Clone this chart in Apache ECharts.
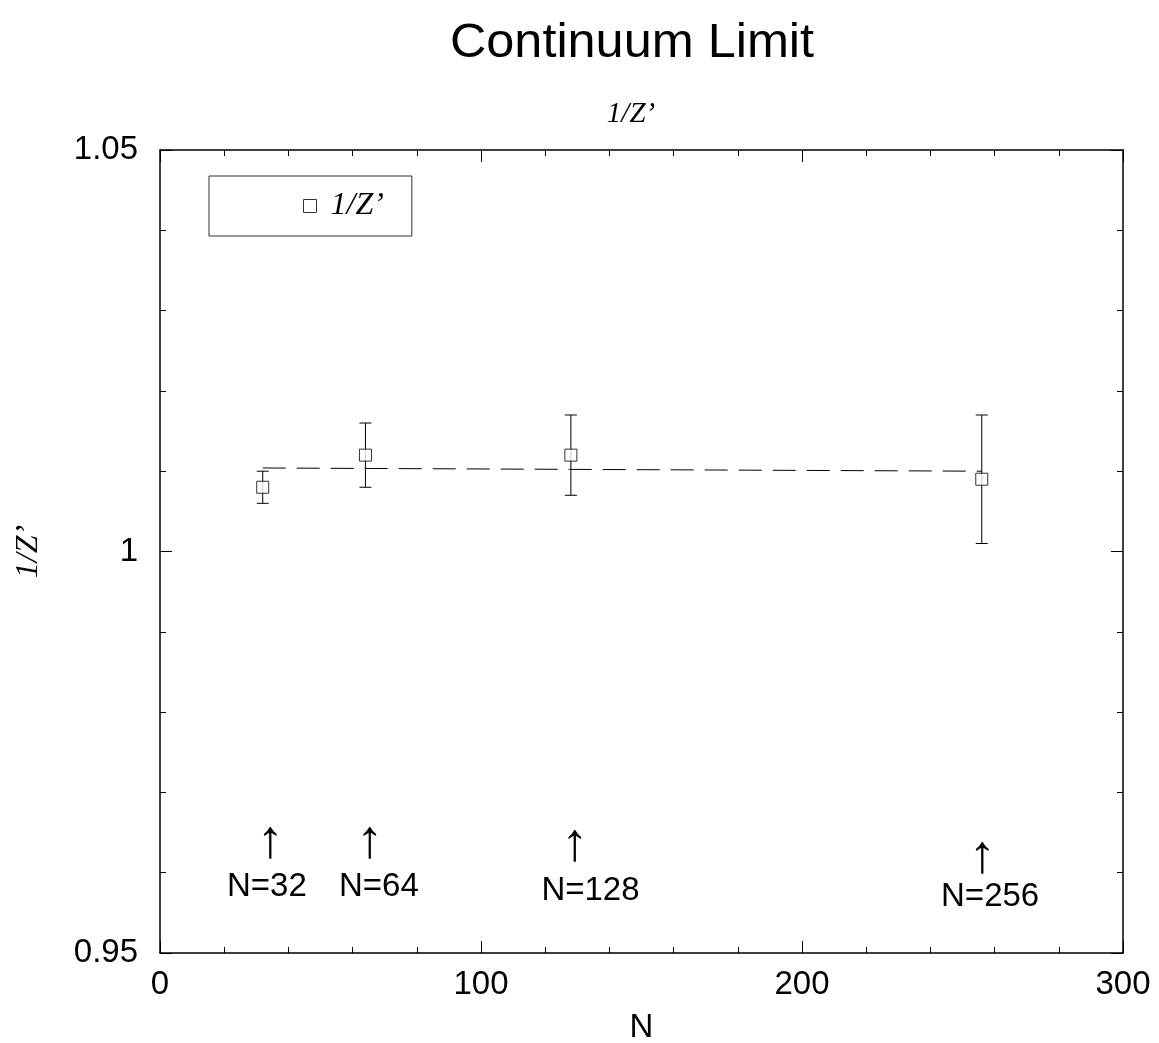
<!DOCTYPE html>
<html>
<head>
<meta charset="utf-8">
<script src="https://cdn.jsdelivr.net/npm/echarts@6/dist/echarts.min.js"></script>
<style>
  html, body { margin: 0; padding: 0; background: #fff; }
  #chart { width: 1159px; height: 1043px; }
</style>
</head>
<body>
<div id="chart"></div>
<script>
// measured points
const latticeN = [32, 64, 128, 256];
const invZ = [1.008, 1.012, 1.012, 1.009];
const invZErr = [0.002, 0.004, 0.005, 0.008];

// constant fit (dashed)
const fitN = [32, 256];
const fitVal = [1.0104, 1.0100];

// arrow annotations
const arrowN = [34.4, 65.4, 129.3, 256.2];
const arrowVal = [0.9638, 0.9638, 0.9634, 0.9620];
const noteN = [33.3, 68.2, 134.1, 258.6];
const noteVal = [0.9582, 0.9582, 0.9577, 0.9570];
const noteText = ['N=32', 'N=64', 'N=128', 'N=256'];

const sans = 'Liberation Sans, Arial, sans-serif';
const serif = 'Liberation Serif, Times New Roman, serif';

const chart = echarts.init(document.getElementById('chart'));

const axisCommon = {
    axisLine: { show: true, onZero: false, lineStyle: { color: '#000', width: 1.5 } },
    axisTick: { show: true, inside: true, length: 12, lineStyle: { color: '#000', width: 1 } },
    minorTick: { show: true, splitNumber: 5, length: 6, lineStyle: { color: '#000', width: 1 } },
    splitLine: { show: false },
    minorSplitLine: { show: false }
};

// text placed at a data position
function textAt(labels, font) {
    return function (params, api) {
        const p = api.coord([api.value(0), api.value(1)]);
        return {
            type: 'text',
            x: p[0],
            y: p[1],
            style: {
                text: labels ? labels[params.dataIndex] : '↑',
                font: font,
                fill: '#000',
                align: 'center',
                verticalAlign: 'middle'
            }
        };
    };
}

const option = {
    animation: false,
    backgroundColor: '#fff',
    graphic: [
        {
            type: 'text', x: 632, y: 44, scaleX: 1.05,
            style: { text: 'Continuum Limit', font: '48px ' + sans, fill: '#000', align: 'center', verticalAlign: 'middle' }
        },
        {
            type: 'text', x: 631, y: 114,
            style: { text: '1/Z’', font: 'italic 29px ' + serif, fill: '#000', align: 'center', verticalAlign: 'middle' }
        }
    ],
    legend: {
        left: 209,
        top: 176,
        padding: [14, 28, 14, 94],
        borderColor: '#333',
        borderWidth: 1,
        itemWidth: 13,
        itemHeight: 13,
        data: [{ name: '1/Z’', icon: 'rect' }],
        itemStyle: { color: '#fff', borderColor: '#000', borderWidth: 1 },
        textStyle: { fontFamily: serif, fontStyle: 'italic', fontSize: 32, color: '#000', padding: [0, 0, 0, 9] }
    },
    grid: { left: 160, top: 150, right: 36, bottom: 90, outerBoundsMode: 'none' },
    xAxis: [
        Object.assign({
            type: 'value', min: 0, max: 300, interval: 100,
            name: 'N', nameLocation: 'middle', nameGap: 58,
            nameTextStyle: { fontFamily: sans, fontSize: 33, color: '#000' },
            axisLabel: { fontFamily: sans, fontSize: 33, color: '#000', margin: 15 }
        }, axisCommon),
        Object.assign({
            type: 'value', min: 0, max: 300, interval: 100, position: 'top',
            axisLabel: { show: false }
        }, axisCommon)
    ],
    yAxis: [
        Object.assign({
            type: 'value', min: 0.95, max: 1.05, interval: 0.05,
            name: '1/Z’', nameLocation: 'middle', nameGap: 115, nameRotate: 90,
            nameTextStyle: { fontFamily: serif, fontStyle: 'italic', fontSize: 32, color: '#000' },
            axisLabel: { fontFamily: sans, fontSize: 33, color: '#000', margin: 22 }
        }, axisCommon),
        Object.assign({
            type: 'value', min: 0.95, max: 1.05, interval: 0.05, position: 'right',
            axisLabel: { show: false }
        }, axisCommon)
    ],
    series: [
        {
            name: 'fit',
            type: 'line',
            data: fitN.map((n, i) => [n, fitVal[i]]),
            symbol: 'none',
            lineStyle: { color: '#000', width: 1, type: [23, 11] },
            silent: true
        },
        {
            name: 'errorbars',
            type: 'custom',
            data: latticeN.map((n, i) => [n, invZ[i] - invZErr[i], invZ[i] + invZErr[i]]),
            renderItem: function (params, api) {
                const x = api.value(0);
                const lo = api.coord([x, api.value(1)]);
                const hi = api.coord([x, api.value(2)]);
                const cap = 6;
                const style = { stroke: '#000', lineWidth: 1 };
                return {
                    type: 'group',
                    children: [
                        { type: 'line', shape: { x1: lo[0], y1: lo[1], x2: hi[0], y2: hi[1] }, style: style },
                        { type: 'line', shape: { x1: lo[0] - cap, y1: lo[1], x2: lo[0] + cap, y2: lo[1] }, style: style },
                        { type: 'line', shape: { x1: hi[0] - cap, y1: hi[1], x2: hi[0] + cap, y2: hi[1] }, style: style }
                    ]
                };
            },
            z: 3
        },
        {
            name: '1/Z’',
            type: 'scatter',
            data: latticeN.map((n, i) => [n, invZ[i]]),
            symbol: 'rect',
            symbolSize: 12,
            itemStyle: { color: '#fff', borderColor: '#000', borderWidth: 1 },
            z: 4
        },
        {
            name: 'arrows',
            type: 'custom',
            data: arrowN.map((n, i) => [n, arrowVal[i]]),
            renderItem: textAt(null, '54px ' + sans),
            silent: true
        },
        {
            name: 'notes',
            type: 'custom',
            data: noteN.map((n, i) => [n, noteVal[i]]),
            renderItem: textAt(noteText, '33px ' + sans),
            silent: true
        }
    ]
};

chart.setOption(option);
</script>
</body>
</html>
